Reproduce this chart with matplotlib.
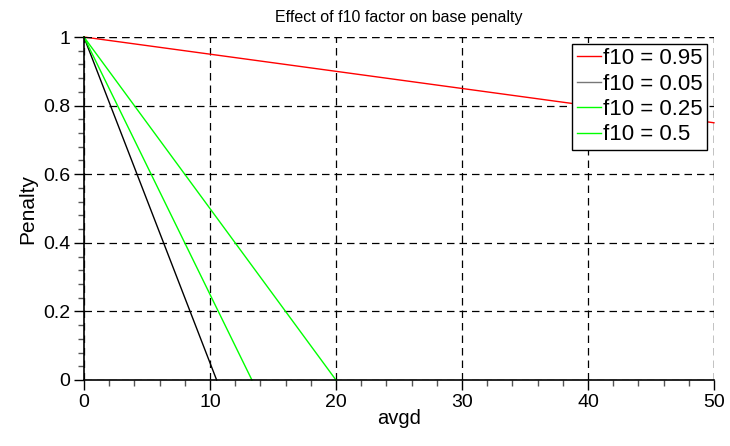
import numpy as np
import matplotlib.pyplot as plt
from matplotlib.ticker import MultipleLocator, FuncFormatter

plt.rcParams["font.family"] = ["Liberation Sans", "DejaVu Sans"]

# endpoints of each line
labels = ["f10 = 0.95", "f10 = 0.05", "f10 = 0.25", "f10 = 0.5"]
x_vals = [[0, 50], [0, 10.53], [0, 13.33], [0, 20]]
y_vals = [[1, 0.75], [1, 0], [1, 0], [1, 0]]
colors = ["#ff0000", "#000000", "#00ff00", "#00ff00"]

fig = plt.figure(figsize=(7.3, 4.46), dpi=100)
ax = fig.add_axes([0.115, 0.148, 0.863, 0.769])

for xs, ys, lab, c in zip(x_vals, y_vals, labels, colors):
    ax.plot(xs, ys, color=c, linewidth=1, label=lab, clip_on=False)

ax.set_xlim(0, 50)
ax.set_ylim(0, 1)
ax.xaxis.set_major_locator(MultipleLocator(10))
ax.xaxis.set_minor_locator(MultipleLocator(2))
ax.yaxis.set_major_locator(MultipleLocator(0.2))
ax.yaxis.set_minor_locator(MultipleLocator(0.04))
ax.yaxis.set_major_formatter(FuncFormatter(lambda v, p: f"{v:g}" if abs(v) > 1e-9 else "0"))

ax.tick_params(which="major", direction="out", length=7, width=1, labelsize=14, color="black", pad=3)
ax.tick_params(which="minor", direction="out", length=4, width=1, color="#555555")

for s in ["top", "right"]:
    ax.spines[s].set_visible(False)
ax.spines["left"].set_linewidth(1.2)
ax.spines["bottom"].set_linewidth(1.2)

# grid
ax.grid(True, which="major", color="black", linestyle=(0, (6, 4)), linewidth=0.9)
ax.axhline(1, color="black", linestyle=(0, (6, 4)), linewidth=0.9)
ax.axvline(50, color="black", linestyle=(0, (6, 4)), linewidth=0.9)

ax.set_xlabel("avgd", fontsize=14.5, labelpad=-1)
ax.set_ylabel("Penalty", fontsize=15, labelpad=4)
ax.set_title("Effect of f10 factor on base penalty", fontsize=11.5, pad=11)

leg = ax.legend(loc="upper right", fontsize=16, handlelength=1.1, handletextpad=0.1,
                borderpad=0.2, labelspacing=0.2, borderaxespad=0.3,
                fancybox=False, framealpha=1, edgecolor="black")
leg.get_frame().set_linewidth(1)
leg.get_lines()[1].set_color("#777777")

fig.savefig("out.png", dpi=100)
